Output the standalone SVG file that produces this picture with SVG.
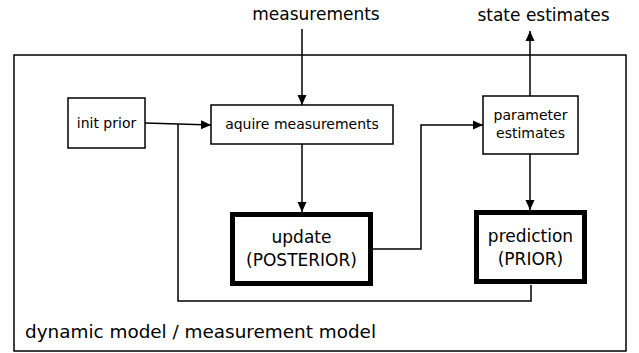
<svg xmlns="http://www.w3.org/2000/svg" width="639" height="353" viewBox="0 0 639 353">
  <style>
    text { font-family: "DejaVu Sans", "Liberation Sans", sans-serif; fill: #000; text-anchor: middle; }
    .box { fill: #fff; stroke: #000; stroke-width: 1.5; }
    .heavy { fill: #fff; stroke: #000; stroke-width: 5; }
    .wire { fill: none; stroke: #000; stroke-width: 1.5; }
    .s14 { font-size: 14px; }
    .s17 { font-size: 17px; }
    .s18 { font-size: 18.4px; }
  </style>
  <defs>
    <marker id="arrow" markerUnits="userSpaceOnUse" markerWidth="10" markerHeight="10" viewBox="0 0 10 10" refX="10" refY="5" orient="auto">
      <path d="M0,0.5 L10,5 L0,9.5 Z" fill="#000"/>
    </marker>
  </defs>
  <rect width="639" height="353" fill="#fff"/>

  <!-- enclosing model frame -->
  <g id="model-frame">
    <rect x="14" y="55" width="612" height="296" fill="none" stroke="#000" stroke-width="1.5"/>
    <text class="s18" x="25" y="338" style="text-anchor:start">dynamic model / measurement model</text>
  </g>

  <!-- external labels -->
  <g id="measurements-in">
    <text class="s17" x="316" y="20">measurements</text>
  </g>
  <g id="state-estimates-out">
    <text class="s17" x="543.5" y="21">state estimates</text>
  </g>

  <!-- connectors -->
  <g id="connectors">
    <path class="wire" d="M302,29 L302,105" marker-end="url(#arrow)"/>
    <path class="wire" d="M145,123 L211,125" marker-end="url(#arrow)"/>
    <path class="wire" d="M302,144 L302,212" marker-end="url(#arrow)"/>
    <path class="wire" d="M372,249 L421,249 L421,125 L483,125" marker-end="url(#arrow)"/>
    <path class="wire" d="M530,96 L530,31" marker-end="url(#arrow)"/>
    <path class="wire" d="M530,154 L530,210" marker-end="url(#arrow)"/>
    <path class="wire" d="M531,285 L531,301 L178,301 L178,124"/>
  </g>

  <g id="init-prior">
    <rect class="box" x="68" y="98" width="77" height="50"/>
    <text class="s14" x="106.5" y="128">init prior</text>
  </g>

  <g id="acquire">
    <rect class="box" x="211" y="105" width="182" height="39"/>
    <text class="s14" x="302" y="129">aquire measurements</text>
  </g>

  <g id="parameter-estimates">
    <rect class="box" x="483" y="96" width="95" height="58"/>
    <text class="s14" x="530.5" y="120">parameter</text>
    <text class="s14" x="530.5" y="138">estimates</text>
  </g>

  <g id="update">
    <rect class="heavy" x="232.5" y="214.5" width="138" height="69"/>
    <text class="s17" x="301.5" y="243">update</text>
    <text class="s17" x="301.5" y="266">(POSTERIOR)</text>
  </g>

  <g id="prediction">
    <rect class="heavy" x="476.5" y="212.5" width="108" height="69"/>
    <text class="s17" x="530.5" y="242">prediction</text>
    <text class="s17" x="530.5" y="265">(PRIOR)</text>
  </g>
</svg>
